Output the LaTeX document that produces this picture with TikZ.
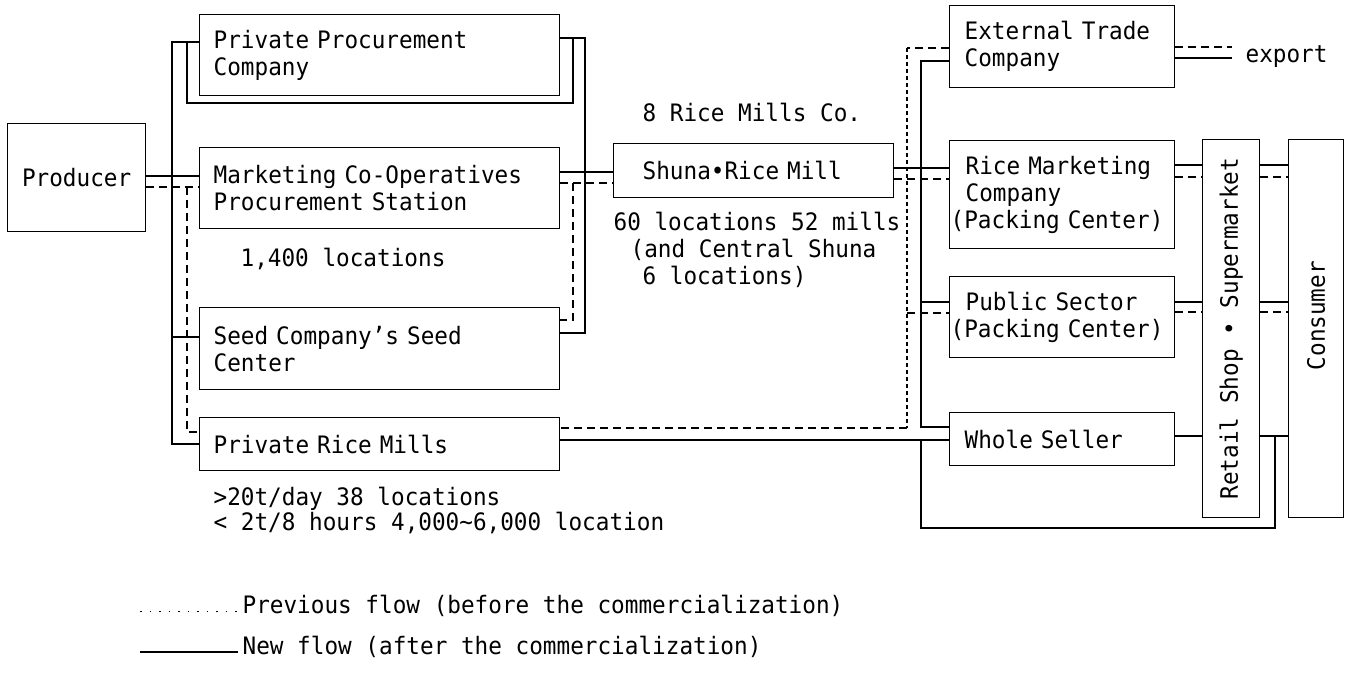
\documentclass[tikz,border=0pt]{standalone}
\usepackage{fontspec}
\usepackage{graphicx}
\setmainfont{DejaVu Sans Mono}[FakeStretch=0.945]
\begin{document}
\begin{tikzpicture}[x=1pt,y=-1pt,line width=1.2pt,
  txt/.style={font=\fontsize{24}{27}\selectfont},
  box/.style={txt,draw,line width=1.3pt,inner ysep=0pt,align=left,anchor=north west},
  lbl/.style={txt,anchor=base west,inner sep=0pt},
  old/.style={dash pattern=on 8pt off 5pt},
  oldv/.style={dash pattern=on 4pt off 3pt},
  dotline/.style={line width=1pt,dash pattern=on 1.5pt off 8pt}]
\useasboundingbox (0,0) rectangle (1350,699);
% boxes
\node[box,align=center,inner xsep=1pt,text width=136pt,minimum height=108pt] (prod) at (7,123) {Producer};
\node[box,inner xsep=14pt,text width=332pt,minimum height=81pt] (ppc) at (199,14) {Private Procurement\\Company};
\node[box,inner xsep=14pt,text width=332pt,minimum height=81pt] (mco) at (199,147) {Marketing Co-Operatives\\Procurement Station};
\node[box,inner xsep=14pt,text width=332pt,minimum height=82pt] (seed) at (199,307) {Seed Company’s Seed\\Center};
\node[box,inner xsep=14pt,text width=332pt,minimum height=53pt] (prm) at (199,417) {Private Rice Mills};
\node[box,inner xsep=29pt,text width=222pt,minimum height=54pt] (shuna) at (613,143) {Shuna•Rice Mill};
\node[box,inner xsep=15pt,text width=195pt,minimum height=82pt] (ext) at (949,5) {External Trade\\Company};
\node[box,inner xsep=1pt,text width=223pt,minimum height=108pt] (rmc) at (949,140) {\hspace*{15pt}Rice Marketing\\\hspace*{15pt}Company\\(Packing Center)};
\node[box,inner xsep=1pt,text width=223pt,minimum height=81pt] (pub) at (949,276) {\hspace*{15pt}Public Sector\\(Packing Center)};
\node[box,inner xsep=15pt,text width=195pt,minimum height=53pt] (ws) at (949,412) {Whole Seller};
\node[box,align=center,inner sep=0pt,minimum width=57pt,minimum height=378pt] (retail) at (1202,139) {\rotatebox{90}{Retail Shop • Supermarket}};
\node[box,align=center,inner sep=0pt,minimum width=55pt,minimum height=378pt] (cons) at (1288,139) {\rotatebox{90}{\hspace*{26pt}Consumer}};
% labels
\node[lbl] (l1400) at (240,266) {1,400 locations};
\node[lbl] (l8) at (642,121) {8 Rice Mills Co.};
\node[lbl] (l60) at (613,230) {60 locations 52 mills};
\node[lbl] (lcen) at (630,257) {(and Central Shuna};
\node[lbl] (l6) at (642,284) {6 locations)};
\node[lbl] (l20) at (213,505) {>20t/day 38 locations};
\node[lbl] (l2t) at (213,530) {< 2t/8 hours 4,000\textasciitilde6,000 location};
\node[lbl] (export) at (1245,62) {export};
\node[lbl] (lg1) at (242,613) {Previous flow (before the commercialization)};
\node[lbl] (lg2) at (242,654) {New flow (after the commercialization)};
% new flow (solid)
\draw (prod.east |- 0,176) -- (mco.west |- 0,176);
\draw (172,176) |- (ppc.west |- 0,42);
\draw (172,176) |- (seed.west |- 0,337);
\draw (172,176) |- (prm.west |- 0,444);
\draw (187,42) |- (573,103) |- (ppc.east |- 0,38);
\draw (ppc.east |- 0,38) -| (585,333) -- (seed.east |- 0,333);
\draw (mco.east |- 0,172) -- (shuna.west |- 0,172);
\draw (shuna.east |- 0,168) -- (rmc.west |- 0,168);
\draw (ext.west |- 0,61) -| (921,427) -- (ws.west |- 0,427);
\draw (921,302) -- (pub.west |- 0,302);
\draw (prm.east |- 0,440) -- (ws.west |- 0,440);
\draw (921,440) |- (1275,528) -- (1275,436);
\draw (ext.east |- 0,58) -- ([xshift=-13pt]export.west |- 0,58);
\draw (rmc.east |- 0,165) -- (retail.west |- 0,165);
\draw (pub.east |- 0,302) -- (retail.west |- 0,302);
\draw (ws.east |- 0,436) -- (retail.west |- 0,436);
\draw (retail.east |- 0,165) -- (cons.west |- 0,165);
\draw (retail.east |- 0,302) -- (cons.west |- 0,302);
\draw (retail.east |- 0,436) -- (cons.west |- 0,436);
% previous flow (dashed)
\draw[old] (prod.east |- 0,187) -- (mco.west |- 0,187);
\draw[old] (187,187) |- (prm.west |- 0,432);
\draw[old] (mco.east |- 0,183) -- (shuna.west |- 0,183);
\draw[old] (573,183) |- (seed.east |- 0,320);
\draw[old] (shuna.east |- 0,179) -- (rmc.west |- 0,179);
\draw[old] (ext.west |- 0,48) -- (907,48);
\draw[oldv] (907,48) -- (907,428);
\draw[old] (907,428) -- (prm.east |- 0,428);
\draw[old] (907,313) -- (pub.west |- 0,313);
\draw[old] (ext.east |- 0,47) -- ([xshift=-13pt]export.west |- 0,47);
\draw[old] (rmc.east |- 0,177) -- (retail.west |- 0,177);
\draw[old] (pub.east |- 0,312) -- (retail.west |- 0,312);
\draw[old] (retail.east |- 0,177) -- (cons.west |- 0,177);
\draw[old] (retail.east |- 0,312) -- (cons.west |- 0,312);
% legend
\draw[dotline] ([xshift=-102pt,yshift=2pt]lg1.base west) -- ([xshift=-4pt,yshift=2pt]lg1.base west);
\draw ([xshift=-102pt,yshift=2pt]lg2.base west) -- ([xshift=-4pt,yshift=2pt]lg2.base west);
\end{tikzpicture}
\end{document}
